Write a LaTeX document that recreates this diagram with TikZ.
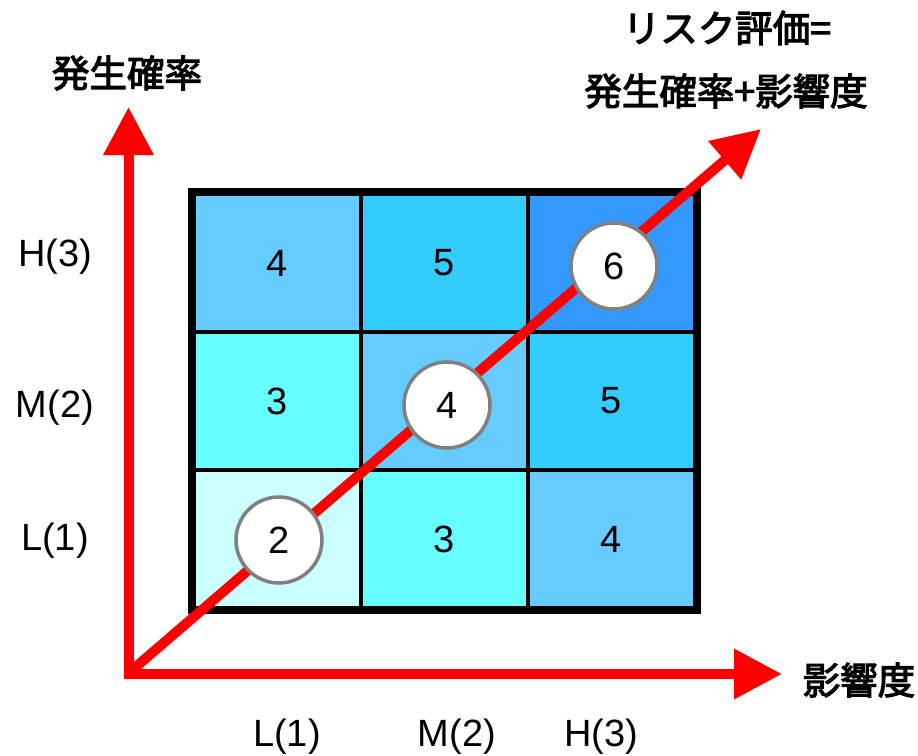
\documentclass[tikz,border=0pt]{standalone}
\usepackage{fontspec}
\setmainfont{Liberation Sans}
\newfontfamily\jp{Noto Sans CJK JP}[FakeBold=3]
\usetikzlibrary{arrows.meta}
\definecolor{cA}{HTML}{66CCFF}
\definecolor{cB}{HTML}{33CCFF}
\definecolor{cC}{HTML}{3399FF}
\definecolor{cD}{HTML}{66FFFF}
\definecolor{cE}{HTML}{CCFFFF}
\definecolor{axisred}{HTML}{FF0000}
\definecolor{ringgray}{HTML}{808080}
\tikzset{
  cell/.style={draw=black, line width=4pt, minimum width=167pt, minimum height=138pt, inner sep=0pt, font=\fontsize{38}{38}\selectfont},
  riskcircle/.style={circle, draw=ringgray, line width=3.5pt, fill=white, minimum size=86pt, inner sep=0pt, font=\fontsize{38}{38}\selectfont},
  axislabel/.style={font=\fontsize{38}{38}\selectfont, inner sep=0pt},
  jplabel/.style={font=\jp\fontsize{37.5}{37.5}\selectfont, inner sep=0pt},
  axisarrow/.style={draw=axisred, line width=10pt, -{Triangle[length=48pt,width=48pt]}}
}
\begin{document}
\begin{tikzpicture}[x=1pt,y=-1pt]
\useasboundingbox[fill=white] (0,0) rectangle (918,755);
% grid cells
\node[cell, fill=cA] (h1) at (277.5,263) {4};
\node[cell, fill=cB] (h2) at (444.5,263) {5};
\node[cell, fill=cC] (h3) at (611.5,263) {};
\node[cell, fill=cD] (m1) at (277.5,401) {3};
\node[cell, fill=cA] (m2) at (444.5,401) {};
\node[cell, fill=cB] (m3) at (611.5,401) {5};
\node[cell, fill=cE] (l1) at (277.5,539) {};
\node[cell, fill=cD] (l2) at (444.5,539) {3};
\node[cell, fill=cA] (l3) at (611.5,539) {4};
\draw[line width=8pt] (h1.north west) rectangle (l3.south east);
% axes
\coordinate (origin) at (128.5,674);
\coordinate (ytip) at (128.5,107);
\coordinate (xtip) at (782,674);
\coordinate (dstart) at (131,671);
\coordinate (dtip) at (761,129);
\draw[axisarrow] ([yshift=-5pt]origin) -- (ytip);
\draw[axisarrow] ([xshift=-5pt]origin) -- (xtip);
\draw[axisarrow] (dstart) -- (dtip);
% circles
\node[riskcircle] (r2) at (279,540) {2};
\node[riskcircle] (r4) at (447,405) {4};
\node[riskcircle] (r6) at (614,266) {6};
% labels
\node[axislabel] (yH) at (55,257) {H(3)};
\node[axislabel] (yM) at (55,408) {M(2)};
\node[axislabel] (yL) at (55,541) {L(1)};
\node[axislabel] (xL) at (287,737) {L(1)};
\node[axislabel] (xM) at (457,737) {M(2)};
\node[axislabel] (xH) at (601,737) {H(3)};
\node[jplabel] (ylab) at (127,73) {発生確率};
\node[jplabel] (xlab) at (859,680) {影響度};
\node[jplabel] (risk1) at (727,28) {リスク評価=};
\node[jplabel] (risk2) at (726,91) {発生確率+影響度};
\end{tikzpicture}
\end{document}
